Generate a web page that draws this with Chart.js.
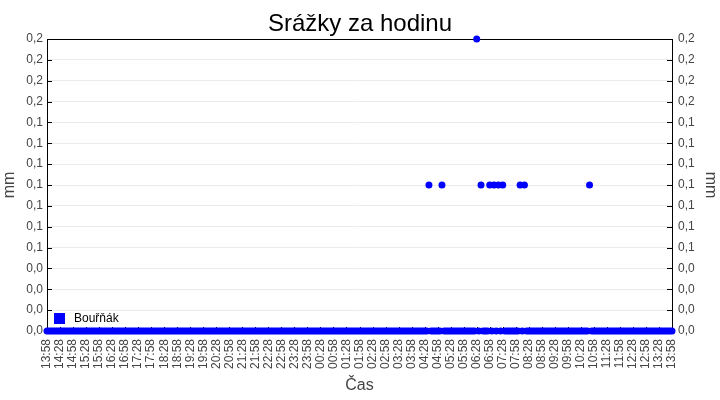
<!DOCTYPE html>
<html>
<head>
<meta charset="utf-8">
<script src="https://cdn.jsdelivr.net/npm/chart.js@4.4.1/dist/chart.umd.min.js"></script>
<style>
  html, body { margin: 0; padding: 0; background: #fff; }
</style>
</head>
<body>
<canvas id="rainChart" width="720" height="400"></canvas>
<script>
const chartTitle = 'Srážky za hodinu';
const seriesName = 'Bouřňák';
const xTitle = 'Čas';
const yTitle = 'mm';

// labels shown every 30 minutes (every 6th 5-minute sample)
const tickLabels = [
  '13:58', '14:28', '14:58', '15:28', '15:58', '16:28', '16:58', '17:28', '17:58', '18:28',
  '18:58', '19:28', '19:58', '20:28', '20:58', '21:28', '21:58', '22:28', '22:58', '23:28',
  '23:58', '00:28', '00:58', '01:28', '01:58', '02:28', '02:58', '03:28', '03:58', '04:28',
  '04:58', '05:28', '05:58', '06:28', '06:58', '07:28', '07:58', '08:28', '08:58', '09:28',
  '09:58', '10:28', '10:58', '11:28', '11:58', '12:28', '12:58', '13:28', '13:58'
];

// rain in mm, one value every 5 minutes, one row per hour
const rainValues = [
  0, 0, 0, 0, 0, 0, 0, 0, 0, 0, 0, 0,
  0, 0, 0, 0, 0, 0, 0, 0, 0, 0, 0, 0,
  0, 0, 0, 0, 0, 0, 0, 0, 0, 0, 0, 0,
  0, 0, 0, 0, 0, 0, 0, 0, 0, 0, 0, 0,
  0, 0, 0, 0, 0, 0, 0, 0, 0, 0, 0, 0,
  0, 0, 0, 0, 0, 0, 0, 0, 0, 0, 0, 0,
  0, 0, 0, 0, 0, 0, 0, 0, 0, 0, 0, 0,
  0, 0, 0, 0, 0, 0, 0, 0, 0, 0, 0, 0,
  0, 0, 0, 0, 0, 0, 0, 0, 0, 0, 0, 0,
  0, 0, 0, 0, 0, 0, 0, 0, 0, 0, 0, 0,
  0, 0, 0, 0, 0, 0, 0, 0, 0, 0, 0, 0,
  0, 0, 0, 0, 0, 0, 0, 0, 0, 0, 0, 0,
  0, 0, 0, 0, 0, 0, 0, 0, 0, 0, 0, 0,
  0, 0, 0, 0, 0, 0, 0, 0, 0, 0, 0, 0,
  0, 0, 0, 0, 0, 0, 0, 0, 0.1, 0, 0, 0,
  0, 0, 0.1, 0, 0, 0, 0, 0, 0, 0, 0, 0,
  0, 0, 0, 0, 0, 0, 0.2, 0, 0.1, 0, 0, 0,
  0.1, 0, 0.1, 0, 0.1, 0, 0.1, 0, 0, 0, 0, 0,
  0, 0, 0.1, 0, 0.1, 0, 0, 0, 0, 0, 0, 0,
  0, 0, 0, 0, 0, 0, 0, 0, 0, 0, 0, 0,
  0, 0, 0, 0, 0, 0, 0, 0, 0, 0, 0.1, 0,
  0, 0, 0, 0, 0, 0, 0, 0, 0, 0, 0, 0,
  0, 0, 0, 0, 0, 0, 0, 0, 0, 0, 0, 0,
  0, 0, 0, 0, 0, 0, 0, 0, 0, 0, 0, 0,
  0
];

const yMin = 0;
const yMax = 0.2;
const yTickCount = 15;

const fontFamily = '"Liberation Sans", Arial, sans-serif';
const blue = '#0000ff';
const axisGray = '#444444';

let labels = [];
for (let i = 0; i < rainValues.length; i++) {
  labels.push(i % 6 === 0 ? tickLabels[i / 6] : '');
}

function fmt(value) {
  return value.toFixed(1).replace('.', ',');
}

// frame, inward ticks and legend inside the plot
const framePlugin = {
  id: 'frame',
  beforeDatasetsDraw(chart) {
    const ctx = chart.ctx;
    const a = chart.chartArea;
    const sy = chart.scales.y;
    const sx = chart.scales.x;
    ctx.save();
    ctx.strokeStyle = '#000';
    ctx.lineWidth = 1;
    ctx.beginPath();
    sy.ticks.forEach((t, i) => {
      let y = Math.round(sy.getPixelForTick(i)) + 0.5;
      ctx.moveTo(a.left, y);
      ctx.lineTo(a.left + 5, y);
      ctx.moveTo(a.right, y);
      ctx.lineTo(a.right - 5, y);
    });
    labels.forEach((l, i) => {
      if (!l) return;
      let x = Math.round(sx.getPixelForValue(i)) + 0.5;
      ctx.moveTo(x, a.bottom);
      ctx.lineTo(x, a.bottom - 4);
    });
    ctx.stroke();
    ctx.strokeRect(Math.round(a.left) + 0.5, Math.round(a.top) + 0.5,
      Math.round(a.right - a.left), Math.round(a.bottom - a.top));
    ctx.restore();
  },
  afterDatasetsDraw(chart) {
    const ctx = chart.ctx;
    const a = chart.chartArea;
    const ds = chart.data.datasets[0];
    ctx.save();
    ctx.fillStyle = ds.backgroundColor;
    ctx.fillRect(a.left + 7, a.bottom - 18, 11, 11);
    ctx.fillStyle = '#000';
    ctx.font = '12px ' + fontFamily;
    ctx.textBaseline = 'middle';
    ctx.fillText(ds.label, a.left + 27, a.bottom - 12);
    ctx.restore();
  }
};

new Chart(document.getElementById('rainChart'), {
  type: 'line',
  data: {
    labels: labels,
    datasets: [{
      label: seriesName,
      data: rainValues,
      showLine: false,
      backgroundColor: blue,
      borderColor: blue,
      pointRadius: 3.5,
      pointBorderWidth: 0,
      pointHoverRadius: 3.5,
      clip: false
    }]
  },
  options: {
    responsive: false,
    animation: false,
    devicePixelRatio: 1,
    layout: { padding: 0 },
    plugins: {
      legend: { display: false },
      tooltip: { enabled: false },
      title: {
        display: true,
        text: chartTitle,
        color: '#000',
        font: { family: fontFamily, size: 24, weight: 'normal' },
        padding: { top: 10, bottom: 0.2 }
      }
    },
    scales: {
      x: {
        type: 'category',
        offset: false,
        grid: { display: false, drawTicks: false },
        border: { display: false },
        ticks: {
          autoSkip: false,
          minRotation: 90,
          maxRotation: 90,
          padding: 8,
          color: axisGray,
          font: { family: fontFamily, size: 12 }
        },
        title: {
          display: true,
          text: xTitle,
          color: axisGray,
          font: { family: fontFamily, size: 16 },
          padding: { top: 0, bottom: 5 }
        },
        afterFit(scale) { scale.height = 69; }
      },
      y: {
        position: 'left',
        min: yMin,
        max: yMax,
        grid: { color: '#ebebeb', drawTicks: false },
        border: { display: false },
        ticks: {
          count: yTickCount,
          padding: 4,
          color: axisGray,
          font: { family: fontFamily, size: 12 },
          callback: (v) => fmt(v)
        },
        title: {
          display: true,
          text: yTitle,
          color: axisGray,
          font: { family: fontFamily, size: 16 },
          padding: { top: 0, bottom: 5 }
        },
        afterFit(scale) { scale.width = 47; }
      },
      y2: {
        position: 'right',
        min: yMin,
        max: yMax,
        grid: { display: false, drawTicks: false },
        border: { display: false },
        ticks: {
          count: yTickCount,
          padding: 6,
          color: axisGray,
          font: { family: fontFamily, size: 12 },
          callback: (v) => fmt(v)
        },
        title: {
          display: true,
          text: yTitle,
          color: axisGray,
          font: { family: fontFamily, size: 16 },
          padding: { top: 0, bottom: 4 }
        },
        afterFit(scale) { scale.width = 48; }
      }
    }
  },
  plugins: [framePlugin]
});
</script>
</body>
</html>
